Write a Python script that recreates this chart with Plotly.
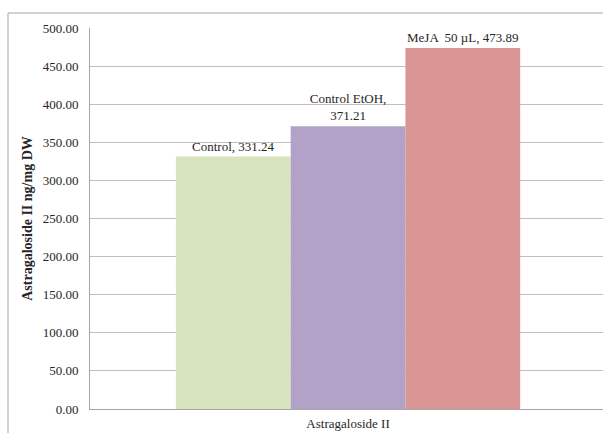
import plotly.graph_objects as go

# Astragaloside II content per treatment
category = ["Astragaloside II"]
series_names = ["Control", "Control EtOH", "MeJA  50 µL"]
series_values = [331.24, 371.21, 473.89]
series_labels = ["Control, 331.24", "Control EtOH,<br>371.21", "MeJA  50 µL, 473.89"]
series_colors = ["#D7E4BD", "#B3A2C7", "#D99694"]
y_ticks = [0, 50, 100, 150, 200, 250, 300, 350, 400, 450, 500]

W, H = 603, 433
L, R, T, B = 90, 0, 28, 24

font_family = "Times New Roman"
fs = 13
txt_color = "#262626"

fig = go.Figure()
for name, val, lab, col in zip(series_names, series_values, series_labels, series_colors):
    fig.add_trace(go.Bar(
        x=category, y=[val], name=name,
        marker=dict(color=col, line=dict(width=0)),
        text=[lab], textposition="outside", texttemplate="%{text}",
        textfont=dict(family=font_family, size=fs, color=txt_color),
        constraintext="none", cliponaxis=False,
    ))

# outer chart border (page px -> paper coords)
pw, ph = W - L - R, H - T - B
def px_x(x): return (x - L) / pw
def px_y(y): return (H - B - y) / ph

fig.add_shape(type="rect", xref="paper", yref="paper",
              x0=px_x(8), x1=px_x(640), y0=px_y(13), y1=px_y(470),
              line=dict(color="#A6A6A6", width=1), fillcolor="rgba(0,0,0,0)", layer="below")

fig.update_layout(
    width=W, height=H,
    margin=dict(l=L, r=R, t=T, b=B, pad=0),
    paper_bgcolor="white", plot_bgcolor="white",
    barmode="group", bargap=0.333, bargroupgap=0,
    showlegend=False,
    font=dict(family=font_family, size=fs, color=txt_color),
    xaxis=dict(
        range=[-0.5, 0.494], showgrid=False, showline=True,
        linecolor="#A6A6A6", linewidth=1, ticks="", ticklabelstandoff=2,
        tickfont=dict(family=font_family, size=fs, color=txt_color),
    ),
    yaxis=dict(
        range=[0, 500], tickvals=y_ticks,
        ticktext=[f"{v:.2f}" for v in y_ticks],
        showgrid=True, gridcolor="#BFBFBF", gridwidth=1,
        showline=True, linecolor="#A6A6A6", linewidth=1,
        ticks="", ticklabelstandoff=8, zeroline=False,
        tickfont=dict(family=font_family, size=fs, color=txt_color),
        title=dict(text="<b>Astragaloside II ng/mg DW</b>", standoff=6,
                   font=dict(family=font_family, size=14, color=txt_color)),
    ),
)

fig.write_html("out.html")
